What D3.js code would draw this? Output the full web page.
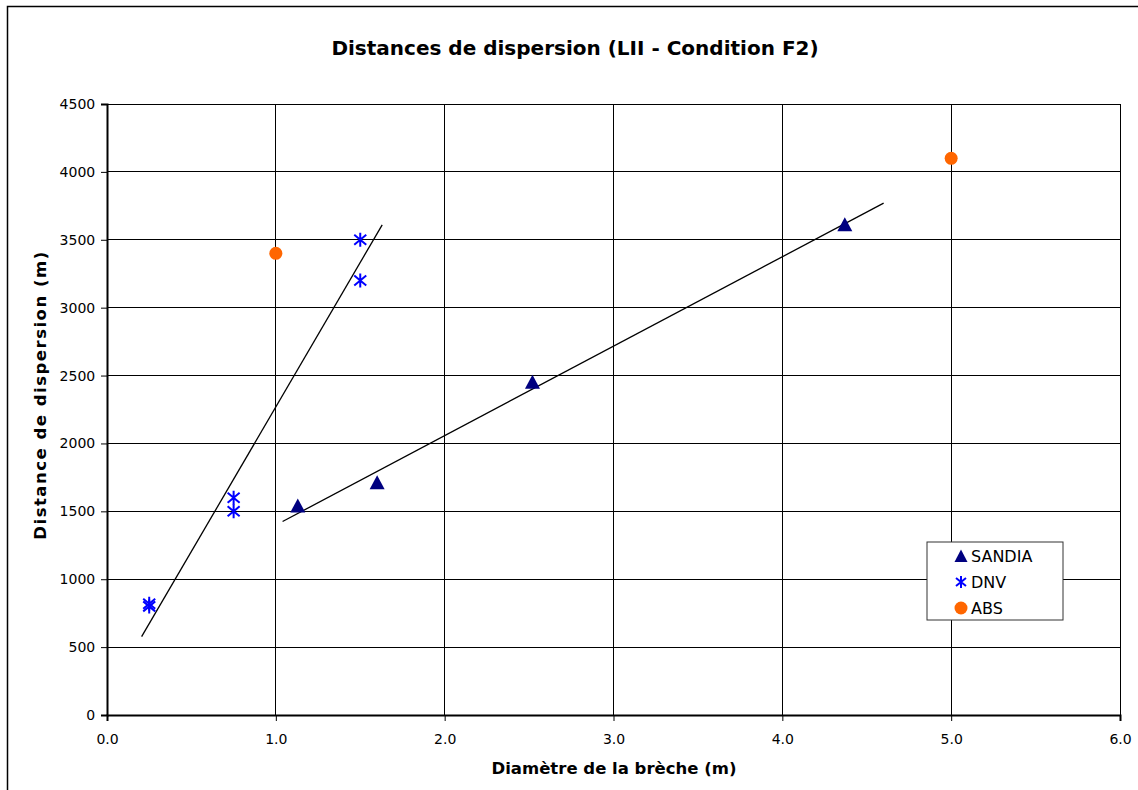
<!DOCTYPE html>
<html>
<head>
<meta charset="utf-8">
<script src="https://cdn.jsdelivr.net/npm/d3@7"></script>
<style>
  body { margin: 0; background: #fff; overflow: hidden; }
  text { font-family: "DejaVu Sans", Verdana, sans-serif; }
</style>
</head>
<body>
<svg id="chart" width="1138" height="790"></svg>
<script>
// values
const sandiaX = [1.13, 1.6, 2.52, 4.37];
const sandiaY = [1540, 1710, 2450, 3610];
const dnvX = [0.25, 0.25, 0.75, 0.75, 1.5, 1.5];
const dnvY = [800, 820, 1500, 1600, 3200, 3500];
const absX = [1.0, 5.0];
const absY = [3400, 4100];

// excel trend lines (ends)
const sandiaTrendX = [1.04, 4.6];
const sandiaTrendY = [1425, 3770];
const dnvTrendX = [0.205, 1.63];
const dnvTrendY = [577, 3610];

const xTicks = [0, 1, 2, 3, 4, 5, 6];
const yTicks = [0, 500, 1000, 1500, 2000, 2500, 3000, 3500, 4000, 4500];

const svg = d3.select("#chart");

// outer frame (right and bottom edges fall outside the window)
svg.append("rect")
  .attr("x", 7.5).attr("y", 6.5)
  .attr("width", 1200).attr("height", 900)
  .attr("fill", "#fff").attr("stroke", "#000").attr("stroke-width", 1.5);

const x = d3.scaleLinear().domain([0, 6]).range([107, 1120]);
const y = d3.scaleLinear().domain([0, 4500]).range([715, 104]);

// grid
const grid = svg.append("g").attr("shape-rendering", "crispEdges");
grid.selectAll(".gx")
  .data(xTicks.slice(1))
  .enter().append("line")
  .attr("x1", d => x(d)).attr("x2", d => x(d))
  .attr("y1", y(0)).attr("y2", y(4500))
  .attr("stroke", "#000");
grid.selectAll(".gy")
  .data(yTicks.slice(1))
  .enter().append("line")
  .attr("x1", x(0)).attr("x2", x(6))
  .attr("y1", d => y(d)).attr("y2", d => y(d))
  .attr("stroke", "#000");

// axes
const xAxis = svg.append("g").attr("transform", `translate(0,${y(0)})`);
xAxis.call(d3.axisBottom(x).tickValues(d3.range(0, 6.01, 0.2)).tickSize(4).tickFormat(""));
xAxis.call(d3.axisBottom(x).tickValues(xTicks).tickSize(6).tickFormat(d3.format(".1f")));
xAxis.selectAll("path").attr("stroke-width", 2);
xAxis.selectAll("text")
  .attr("font-size", 14).attr("fill", "#000").attr("dy", "1.4em");

const yAxis = svg.append("g").attr("transform", `translate(${x(0)},0)`);
yAxis.call(d3.axisLeft(y).tickValues(d3.range(0, 4501, 100)).tickSize(4).tickFormat(""));
yAxis.call(d3.axisLeft(y).tickValues(yTicks).tickSize(6).tickFormat(d3.format("d")));
yAxis.selectAll("path").attr("stroke-width", 2);
yAxis.selectAll("text")
  .attr("font-size", 14).attr("fill", "#000").attr("dx", "-0.2em");
svg.selectAll(".domain").attr("stroke", "#000");

// trend lines
const line = d3.line().x(d => x(d[0])).y(d => y(d[1]));
svg.append("path")
  .attr("d", line(d3.zip(sandiaTrendX, sandiaTrendY)))
  .attr("stroke", "#000").attr("stroke-width", 1.3).attr("fill", "none");
svg.append("path")
  .attr("d", line(d3.zip(dnvTrendX, dnvTrendY)))
  .attr("stroke", "#000").attr("stroke-width", 1.3).attr("fill", "none");

// marker shapes
const triPath = "M0,-7.5L7.5,6.5L-7.5,6.5Z";
const starPath = "M0,-7L0,7M-6,-5L6,5M-6,5L6,-5";

svg.append("g").selectAll("path")
  .data(d3.zip(sandiaX, sandiaY))
  .enter().append("path")
  .attr("transform", d => `translate(${x(d[0])},${y(d[1])})`)
  .attr("d", triPath)
  .attr("fill", "#000080");

svg.append("g").selectAll("path")
  .data(d3.zip(dnvX, dnvY))
  .enter().append("path")
  .attr("transform", d => `translate(${x(d[0])},${y(d[1])})`)
  .attr("d", starPath)
  .attr("stroke", "#0000ff").attr("stroke-width", 2).attr("fill", "none");

svg.append("g").selectAll("circle")
  .data(d3.zip(absX, absY))
  .enter().append("circle")
  .attr("cx", d => x(d[0])).attr("cy", d => y(d[1]))
  .attr("r", 6.5)
  .attr("fill", "#ff6600");

// title and axis labels
svg.append("text")
  .attr("x", 575).attr("y", 55)
  .attr("text-anchor", "middle")
  .attr("font-size", 20).attr("font-weight", "bold")
  .text("Distances de dispersion (LII - Condition F2)");

svg.append("text")
  .attr("x", 614).attr("y", 774)
  .attr("text-anchor", "middle")
  .attr("font-size", 16.5).attr("font-weight", "bold")
  .text("Diamètre de la brèche (m)");

svg.append("text")
  .attr("transform", "translate(46,395) rotate(-90)")
  .attr("text-anchor", "middle")
  .attr("font-size", 16.5).attr("font-weight", "bold")
  .attr("letter-spacing", 1.5)
  .text("Distance de dispersion (m)");

// legend
const legend = svg.append("g").attr("transform", "translate(927,542)");
legend.append("rect")
  .attr("width", 136).attr("height", 78)
  .attr("fill", "#fff").attr("stroke", "#333").attr("stroke-width", 1);

const legendItems = [
  { name: "SANDIA", kind: "tri" },
  { name: "DNV", kind: "star" },
  { name: "ABS", kind: "circle" }
];
legendItems.forEach((d, i) => {
  const g = legend.append("g").attr("transform", `translate(34,${14 + i * 26})`);
  if (d.kind === "tri") {
    g.append("path").attr("d", "M0,-6.5L6.5,6L-6.5,6Z").attr("fill", "#000080");
  } else if (d.kind === "star") {
    g.append("path").attr("d", "M0,-6L0,6M-5,-4L5,4M-5,4L5,-4")
      .attr("stroke", "#0000ff").attr("stroke-width", 2).attr("fill", "none");
  } else {
    g.append("circle").attr("r", 6.5).attr("fill", "#ff6600");
  }
  g.append("text")
    .attr("x", 10).attr("y", 6)
    .attr("font-size", 16)
    .text(d.name);
});
</script>
</body>
</html>
